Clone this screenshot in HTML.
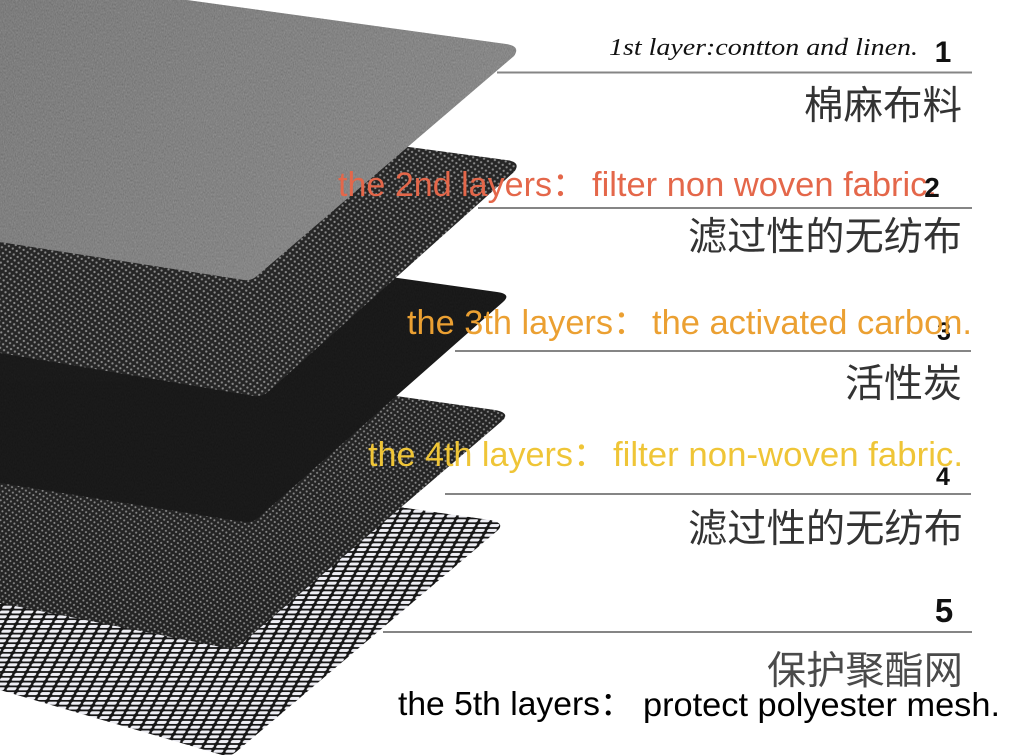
<!DOCTYPE html>
<html>
<head>
<meta charset="utf-8">
<style>
  html,body{margin:0;padding:0;background:#fff;}
  svg{display:block;}
  .en{font-family:"Liberation Sans","Noto Sans CJK SC",sans-serif;}
  .cn{font-family:"Liberation Sans","Noto Sans CJK SC",sans-serif;}
  .hw{font-family:"Liberation Serif","DejaVu Serif",serif;font-style:italic;}
  .num{font-family:"Liberation Sans",sans-serif;font-weight:bold;}
</style>
</head>
<body>
<svg width="1024" height="755" viewBox="0 0 1024 755" xmlns="http://www.w3.org/2000/svg">
  <defs>
    <linearGradient id="grayGrad" x1="0" y1="0" x2="1" y2="0.4">
      <stop offset="0" stop-color="#7c7c7c"/>
      <stop offset="0.5" stop-color="#848484"/>
      <stop offset="1" stop-color="#8c8c8c"/>
    </linearGradient>
    <filter id="grain" x="0" y="0" width="100%" height="100%" color-interpolation-filters="sRGB">
      <feTurbulence type="fractalNoise" baseFrequency="0.9 0.5" numOctaves="2" seed="4" result="n"/>
      <feColorMatrix in="n" type="matrix" values="0.33 0.33 0.33 0 0  0.33 0.33 0.33 0 0  0.33 0.33 0.33 0 0  0 0 0 0 1"/>
    </filter>
    <pattern id="dots2" width="7" height="6" patternUnits="userSpaceOnUse" patternTransform="rotate(-9)">
      <rect width="7" height="6" fill="#262626"/>
      <circle cx="1.75" cy="1.5" r="1.15" fill="#8a8a8a"/>
      <circle cx="5.25" cy="4.5" r="1.15" fill="#8a8a8a"/>
    </pattern>
    <pattern id="dots4" width="6.6" height="5.6" patternUnits="userSpaceOnUse" patternTransform="rotate(-9)">
      <rect width="6.6" height="5.6" fill="#242424"/>
      <circle cx="1.65" cy="1.4" r="1.05" fill="#858585"/>
      <circle cx="4.95" cy="4.2" r="1.05" fill="#858585"/>
    </pattern>
    <pattern id="mesh" width="12" height="4.8" patternUnits="userSpaceOnUse" patternTransform="skewX(-28)">
      <rect width="12" height="4.8" fill="#161616"/>
      <rect x="1.2" y="0.9" width="9.4" height="3" rx="1.5" ry="1.5" fill="#eeeef4"/>
    </pattern>
    <clipPath id="c1"><path d="M0,0 L187,0 L506,44 Q521,46 514,56 L258,275 Q252,281 244,280 L0,242 Z"/></clipPath>
    <clipPath id="c3"><path d="M0,222 L497,292 Q512,294 503,302 L258,518 Q252,523 244,522 L0,483 Z"/></clipPath>
  </defs>

  <rect width="1024" height="755" fill="#ffffff"/>

  <!-- Layer 5: mesh -->
  <path d="M0,450 L490,520 Q506,523 497,531 L236,752 Q230,757 222,755 L0,690 Z" fill="url(#mesh)"/>

  <!-- Layer 4: dotted non-woven -->
  <path d="M0,340 L495,410 Q511,413 502,421 L240,645 Q234,650 226,648 L0,603 Z" fill="url(#dots4)"/>

  <!-- Layer 3: activated carbon -->
  <path d="M0,222 L497,292 Q512,294 503,302 L258,518 Q252,523 244,522 L0,483 Z" fill="#141414"/>
  <g clip-path="url(#c3)" opacity="0.06">
    <rect x="0" y="220" width="520" height="310" filter="url(#grain)"/>
  </g>

  <!-- Layer 2: dotted non-woven -->
  <path d="M0,92 L506,160 Q522,162 514,172 L268,392 Q262,397 254,396 L0,353 Z" fill="url(#dots2)"/>

  <!-- Layer 1: cotton and linen -->
  <path d="M0,0 L187,0 L506,44 Q521,46 514,56 L258,275 Q252,281 244,280 L0,242 Z" fill="url(#grayGrad)"/>
  <g clip-path="url(#c1)" opacity="0.25">
    <rect x="0" y="0" width="525" height="285" filter="url(#grain)"/>
  </g>

  <!-- Rules -->
  <g stroke="#858585" stroke-width="2">
    <line x1="497" y1="72.5" x2="972" y2="72.5"/>
    <line x1="478" y1="208" x2="972" y2="208"/>
    <line x1="455" y1="351" x2="971" y2="351"/>
    <line x1="445" y1="494" x2="971" y2="494"/>
    <line x1="383" y1="632" x2="972" y2="632"/>
  </g>

  <!-- Layer 1 text -->
  <text class="hw" x="609" y="55" font-size="24" fill="#111" textLength="309" lengthAdjust="spacingAndGlyphs">1st layer:contton and linen.</text>
  <text class="num" x="943" y="62" font-size="30" fill="#111" text-anchor="middle">1</text>
  <text class="cn" x="804" y="119" font-size="39" fill="#333" textLength="158" lengthAdjust="spacingAndGlyphs">棉麻布料</text>

  <!-- Layer 2 text -->
  <g class="en" font-size="34" fill="#E4674A">
    <text x="338" y="196" textLength="214" lengthAdjust="spacingAndGlyphs">the 2nd layers</text>
    <text x="552" y="196">：</text>
    <text x="592" y="196" textLength="345" lengthAdjust="spacingAndGlyphs">filter non woven fabric.</text>
  </g>
  <text class="num" x="932" y="197" font-size="28" fill="#111" text-anchor="middle">2</text>
  <text class="cn" x="688" y="250" font-size="39" fill="#333" textLength="274" lengthAdjust="spacingAndGlyphs">滤过性的无纺布</text>

  <!-- Layer 3 text -->
  <text class="num" x="944" y="340" font-size="25" fill="#111" text-anchor="middle">3</text>
  <g class="en" font-size="34" fill="#EBA032">
    <text x="407" y="334" textLength="206" lengthAdjust="spacingAndGlyphs">the 3th layers</text>
    <text x="613" y="334">：</text>
    <text x="652" y="334" textLength="320" lengthAdjust="spacingAndGlyphs">the activated carbon.</text>
  </g>
  <text class="cn" x="845" y="397" font-size="39" fill="#333" textLength="117" lengthAdjust="spacingAndGlyphs">活性炭</text>

  <!-- Layer 4 text -->
  <g class="en" font-size="34" fill="#EFC537">
    <text x="368" y="466" textLength="205" lengthAdjust="spacingAndGlyphs">the 4th layers</text>
    <text x="573" y="466">：</text>
    <text x="613" y="466" textLength="350" lengthAdjust="spacingAndGlyphs">filter non-woven fabric.</text>
  </g>
  <text class="num" x="943" y="485" font-size="25" fill="#111" text-anchor="middle">4</text>
  <text class="cn" x="688" y="542" font-size="39" fill="#333" textLength="275" lengthAdjust="spacingAndGlyphs">滤过性的无纺布</text>

  <!-- Layer 5 text -->
  <text class="num" x="944" y="622" font-size="33" fill="#111" text-anchor="middle">5</text>
  <text class="cn" x="767" y="684" font-size="39" fill="#4a4a4a" textLength="196" lengthAdjust="spacingAndGlyphs">保护聚酯网</text>
  <g class="en" font-size="33" fill="#000">
    <text x="398" y="715" textLength="202" lengthAdjust="spacingAndGlyphs">the 5th layers</text>
    <text x="600" y="715">：</text>
    <text x="643" y="716" textLength="357" lengthAdjust="spacingAndGlyphs">protect polyester mesh.</text>
  </g>
</svg>
</body>
</html>
